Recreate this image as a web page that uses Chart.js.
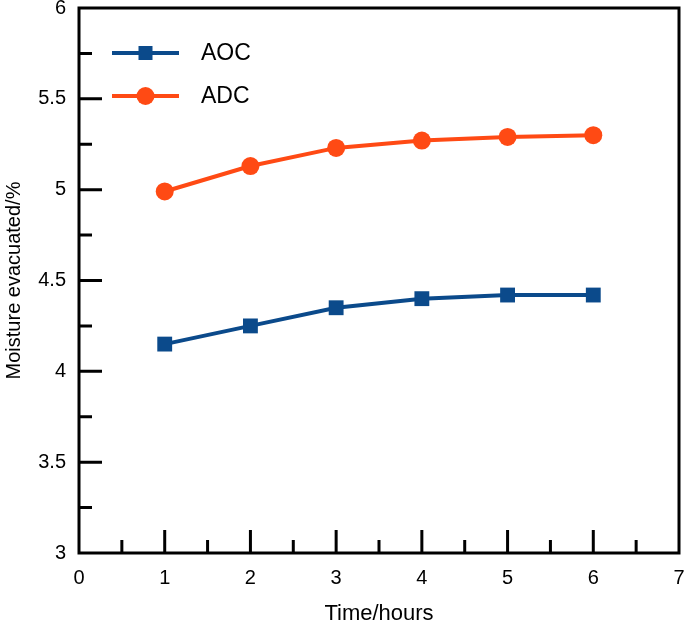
<!DOCTYPE html>
<html>
<head>
<meta charset="utf-8">
<script src="https://cdn.jsdelivr.net/npm/chart.js@4"></script>
<style>
  html, body { margin: 0; padding: 0; background: #fff; }
  #wrap { width: 685px; height: 628px; }
</style>
</head>
<body>
<div id="wrap"><canvas id="moisture-chart"></canvas></div>
<script>
// data
const hours = [1, 2, 3, 4, 5, 6];
const aocValues = [4.15, 4.25, 4.35, 4.40, 4.42, 4.42];
const adcValues = [4.99, 5.13, 5.23, 5.27, 5.29, 5.30];

const blue = '#0b4a8b';
const orange = '#ff4a14';
const font = "'Liberation Sans', Arial, sans-serif";

// box round the plot + inward tick marks (major / minor)
const frameTicks = {
  id: 'frameTicks',
  afterDraw(chart) {
    const { ctx, chartArea: a, scales } = chart;
    const x = scales.x, y = scales.y;
    ctx.save();
    ctx.strokeStyle = '#000';
    ctx.lineWidth = 3;
    ctx.lineCap = 'butt';
    ctx.beginPath();
    for (let v = 0.5; v < 7; v += 0.5) {
      const px = x.getPixelForValue(v);
      const len = Number.isInteger(v) ? 23 : 13;
      ctx.moveTo(px, a.bottom);
      ctx.lineTo(px, a.bottom - len);
    }
    for (let v = 3.25; v < 6; v += 0.25) {
      const py = y.getPixelForValue(v);
      const len = (Math.round(v * 2) === v * 2) ? 23 : 13;
      ctx.moveTo(a.left, py);
      ctx.lineTo(a.left + len, py);
    }
    ctx.stroke();
    ctx.strokeRect(a.left, a.top, a.right - a.left, a.bottom - a.top);
    ctx.restore();
  }
};

// legend drawn inside the plot, top-left
const innerLegend = {
  id: 'innerLegend',
  afterDraw(chart) {
    const { ctx, chartArea: a } = chart;
    ctx.save();
    chart.data.datasets.forEach((ds, i) => {
      const yy = a.top + 45 + i * 43;
      const x0 = a.left + 33, x1 = a.left + 100, xm = (x0 + x1) / 2;
      ctx.strokeStyle = ds.borderColor;
      ctx.lineWidth = 4;
      ctx.beginPath();
      ctx.moveTo(x0, yy);
      ctx.lineTo(x1, yy);
      ctx.stroke();
      ctx.fillStyle = ds.backgroundColor;
      if (ds.pointStyle === 'rect') {
        ctx.fillRect(xm - 7, yy - 7, 14, 14);
      } else {
        ctx.beginPath();
        ctx.arc(xm, yy, 9, 0, Math.PI * 2);
        ctx.fill();
      }
      ctx.fillStyle = '#000';
      ctx.font = '23px ' + font;
      ctx.textBaseline = 'middle';
      ctx.fillText(ds.label, a.left + 122, yy + 1);
    });
    ctx.restore();
  }
};

const ctx = document.getElementById('moisture-chart').getContext('2d');
new Chart(ctx, {
  type: 'line',
  data: {
    datasets: [{
      label: 'AOC',
      data: hours.map((h, i) => ({ x: h, y: aocValues[i] })),
      borderColor: blue,
      backgroundColor: blue,
      borderWidth: 4,
      pointStyle: 'rect',
      pointRadius: 10.5,
      pointBorderWidth: 0,
      tension: 0
    }, {
      label: 'ADC',
      data: hours.map((h, i) => ({ x: h, y: adcValues[i] })),
      borderColor: orange,
      backgroundColor: orange,
      borderWidth: 4,
      pointStyle: 'circle',
      pointRadius: 9,
      pointBorderWidth: 0,
      tension: 0
    }]
  },
  options: {
    responsive: true,
    maintainAspectRatio: false,
    animation: false,
    layout: { autoPadding: false, padding: { top: 8, right: 6, left: 0, bottom: 0 } },
    plugins: {
      legend: { display: false },
      tooltip: { enabled: false }
    },
    scales: {
      x: {
        type: 'linear',
        min: 0,
        max: 7,
        grid: { display: false, drawTicks: false },
        border: { display: false },
        ticks: { stepSize: 1, padding: 13, color: '#000', font: { family: font, size: 20 } },
        title: { display: true, text: 'Time/hours', color: '#000', font: { family: font, size: 22 }, padding: { top: 0, bottom: 1 } },
        afterFit(scale) {
          scale.height = 75;
          scale.paddingLeft = 0;
          scale.paddingRight = 0;
        }
      },
      y: {
        min: 3,
        max: 6,
        grid: { display: false, drawTicks: false },
        border: { display: false },
        ticks: { stepSize: 0.5, padding: 13, color: '#000', font: { family: font, size: 20 }, callback: v => String(v) },
        title: { display: true, text: 'Moisture evacuated/%', color: '#000', font: { family: font, size: 20 }, padding: { top: 2, bottom: 0 } },
        afterFit(scale) {
          scale.width = 79;
          scale.paddingTop = 0;
          scale.paddingBottom = 0;
        }
      }
    }
  },
  plugins: [frameTicks, innerLegend]
});
</script>
</body>
</html>
